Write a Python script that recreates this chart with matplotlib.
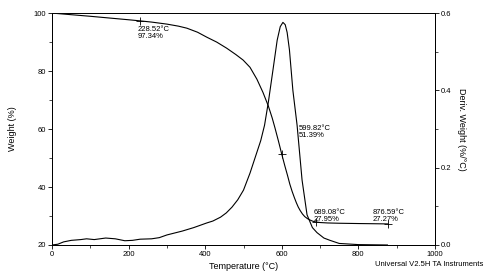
import numpy as np
import matplotlib
matplotlib.use("Agg")
import matplotlib.pyplot as plt
from matplotlib.ticker import AutoMinorLocator

plt.rcParams['font.family'] = ['Liberation Sans', 'DejaVu Sans']

# TGA weight curve (temperature degC, weight %)
temp_w = [0, 50, 100, 150, 200, 228.52, 260, 300, 330, 352, 380, 404, 430, 456,
          480, 499, 517, 535, 551, 565, 575, 582, 591, 599.82, 608, 615, 621, 627,
          633, 638, 643, 648, 654, 660, 667, 674, 681, 689.08, 700, 720, 750, 800,
          850, 876.59]
weight = [100, 99.45, 98.9, 98.3, 97.7, 97.34, 96.9, 96.2, 95.5, 94.8, 93.4, 91.7,
          90.0, 87.9, 85.7, 83.8, 81.3, 77.2, 72.6, 67.9, 63.8, 60.5, 56.0, 51.39,
          47.3, 44.0, 41.0, 38.5, 36.3, 34.6, 33.1, 31.9, 30.7, 29.8, 29.1, 28.6,
          28.2, 27.95, 27.75, 27.6, 27.5, 27.4, 27.32, 27.27]

# derivative weight curve (temperature degC, %/degC)
temp_d = [0, 15, 30, 50, 75, 90, 110, 140, 165, 190, 210, 230, 260, 280, 300,
          340, 370, 404, 420, 440, 455, 470, 485, 500, 517, 530, 545, 555, 565,
          577, 588, 596, 603, 609, 614, 620, 629, 640, 653, 666, 680, 692, 710,
          726, 750, 800, 876]
deriv = [0.0, 0.002, 0.008, 0.012, 0.014, 0.016, 0.014, 0.018, 0.016, 0.011,
         0.012, 0.015, 0.016, 0.019, 0.026, 0.036, 0.045, 0.057, 0.062, 0.072,
         0.083, 0.098, 0.117, 0.142, 0.186, 0.225, 0.27, 0.31, 0.37, 0.453,
         0.53, 0.565, 0.576, 0.57, 0.55, 0.505, 0.40, 0.31, 0.168, 0.078, 0.045,
         0.032, 0.018, 0.012, 0.004, 0.001, 0.0]

# marked points and their labels
mark_t = [228.52, 599.82, 689.08, 876.59]
mark_w = [97.34, 51.39, 27.95, 27.27]
label_xy = [(224, 95.6), (645, 61.4), (684, 32.4), (838, 32.4)]

fig = plt.figure(figsize=(4.87, 2.73), dpi=100)
ax = fig.add_axes([0.107, 0.1026, 0.786, 0.8494])
ax2 = ax.twinx()

ax.plot(temp_w, weight, color='black', lw=0.8)
ax2.plot(temp_d, deriv, color='black', lw=0.8)

ax.plot(mark_t, mark_w, linestyle='none', marker='+', color='black', ms=6, mew=0.6)
for t, w, (lx, ly) in zip(mark_t, mark_w, label_xy):
    ax.text(lx, ly, f"{t:.2f}\u00b0C\n{w:.2f}%", fontsize=5.5, va='top', ha='left',
            linespacing=0.95)

ax.set_xlim(0, 1000)
ax.set_ylim(20, 100)
ax2.set_ylim(0, 0.6)
ax.set_xticks([0, 200, 400, 600, 800, 1000])
ax.set_yticks([20, 40, 60, 80, 100])
ax2.set_yticks([0.0, 0.2, 0.4, 0.6])
ax2.set_yticklabels(['0.0', '0.2', '0.4', '0.6'])
for a in (ax, ax2):
    a.xaxis.set_minor_locator(AutoMinorLocator(2))
    a.yaxis.set_minor_locator(AutoMinorLocator(2))
    a.tick_params(which='major', direction='out', length=3, width=0.6, labelsize=5.5, pad=1.5)
    a.tick_params(which='minor', direction='out', length=2, width=0.5)
    for s in a.spines.values():
        s.set_linewidth(0.7)
ax.spines['top'].set_color('#888888')

ax.set_xlabel("Temperature (\u00b0C)", fontsize=6.5, labelpad=3)
ax.set_ylabel("Weight (%)", fontsize=6.5, labelpad=12)
ax2.set_ylabel("Deriv. Weight (%/\u00b0C)", fontsize=6.5, rotation=270, labelpad=10)
fig.text(0.992, 0.02, "Universal V2.5H TA Instruments", fontsize=5.5, ha='right', va='bottom')

fig.savefig("out.png", dpi=100)
